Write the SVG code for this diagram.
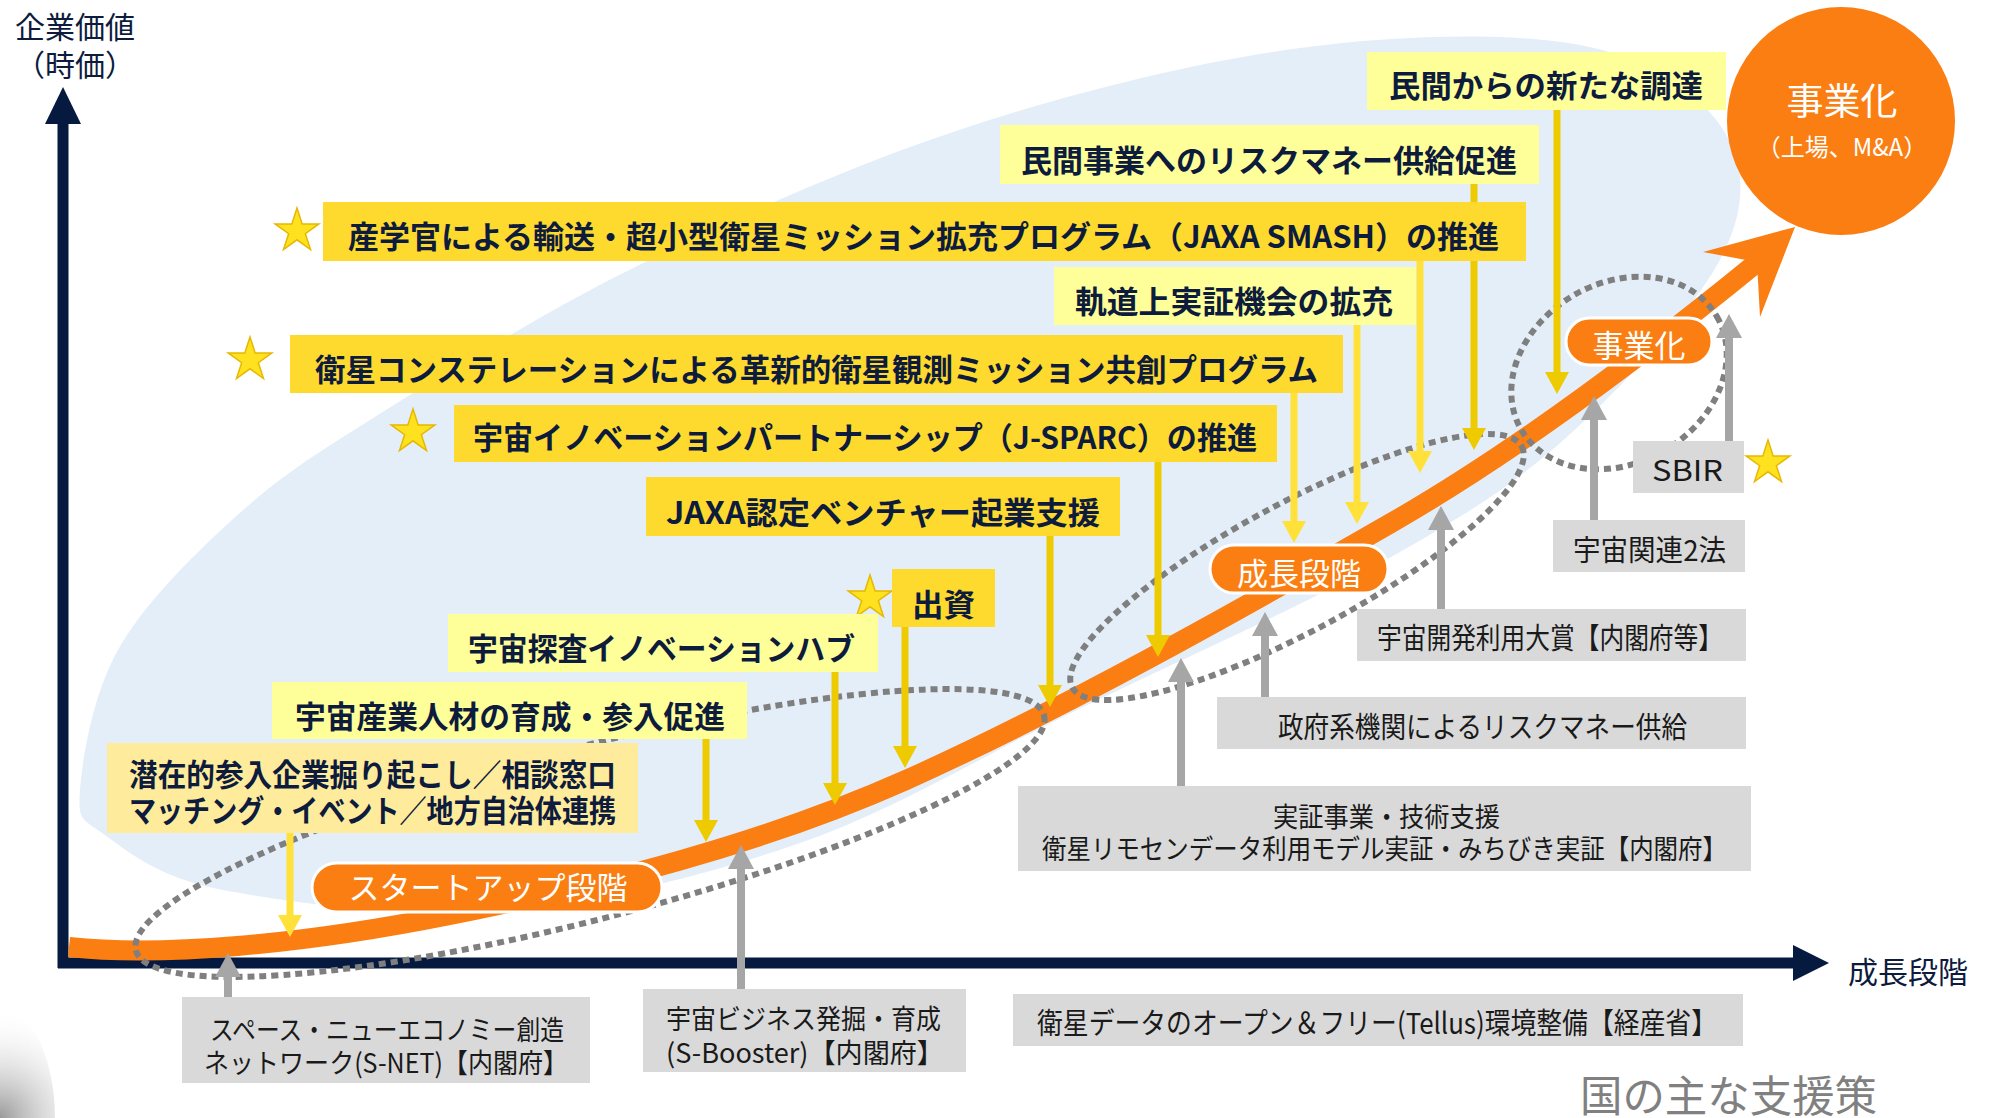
<svg xmlns="http://www.w3.org/2000/svg" xmlns:xlink="http://www.w3.org/1999/xlink" width="1995" height="1118" viewBox="0 0 1995 1118">
<style>
text{font-family:'Noto Sans CJK JP','Noto Sans',sans-serif;dominant-baseline:central}
.gold{fill:#FED92E}
.lite{fill:#FFFF99}
.pale{fill:#FFEB9C}
.grey{fill:#D9D9D9}
.yt{font-size:31px;font-weight:700;fill:#0D1B3D}
.gt{font-size:29px;fill:#1A1A1A}
.g2{font-size:27px;fill:#1A1A1A}
.ax{font-size:30px;fill:#0D1B3D}
.pill{fill:#FA7E12;stroke:#FFFFFF;stroke-width:3}
.pt{font-size:31px;fill:#FFFFFF;text-anchor:middle}
.dot{fill:none;stroke:#7F7F7F;stroke-width:6;stroke-dasharray:7 5}
.ay{stroke:#EECA00;stroke-width:7;marker-end:url(#hd)}
.ly{stroke:#FFE13A;stroke-width:7;marker-end:url(#hl)}
.ag{stroke:#A6A6A6;stroke-width:8;marker-end:url(#hg)}
.star{fill:#FFE21F;stroke:#E6B800;stroke-width:1.5}
</style>
<defs>
<marker id="hd" markerUnits="userSpaceOnUse" markerWidth="24" markerHeight="24" refX="2" refY="12" orient="auto"><path d="M0,0 L22,12 L0,24 Z" fill="#EECA00"/></marker>
<marker id="hl" markerUnits="userSpaceOnUse" markerWidth="24" markerHeight="24" refX="2" refY="12" orient="auto"><path d="M0,0 L22,12 L0,24 Z" fill="#FFE13A"/></marker>
<marker id="hg" markerUnits="userSpaceOnUse" markerWidth="26" markerHeight="26" refX="2" refY="13" orient="auto"><path d="M0,0 L24,13 L0,26 Z" fill="#A6A6A6"/></marker>
<polygon id="star" points="0,-23 5.16,-7.11 21.88,-7.11 8.36,2.71 13.52,18.61 0,8.79 -13.52,18.61 -8.36,2.71 -21.88,-7.11 -5.16,-7.11"/>
<radialGradient id="sh" cx="0" cy="1118" r="110" gradientUnits="userSpaceOnUse">
<stop offset="0" stop-color="#777777" stop-opacity="0.75"/>
<stop offset="1" stop-color="#FFFFFF" stop-opacity="0"/>
</radialGradient>
</defs>
<rect x="0" y="0" width="1995" height="1118" fill="#FFFFFF"/>
<ellipse cx="0" cy="1118" rx="55" ry="110" fill="url(#sh)"/>

<!-- background region -->
<path id="region" fill="#E4EEF8" d="M80 790 C82.2 759.2 92.7 695 118 650 C143.3 605 190 558.3 232 520 C274 481.7 300.8 463.2 370 420 C439.2 376.8 547.3 309.8 647 261 C746.7 212.2 859.2 162.5 968 127 C1076.8 91.5 1198 61.7 1300 48 C1402 34.3 1510 32.2 1580 45 C1650 57.8 1695.8 90.8 1720 125 C1744.2 159.2 1748.3 200 1725 250 C1701.7 300 1634.2 374.7 1580 425 C1525.8 475.3 1483.5 504.7 1400 552 C1316.5 599.3 1179 660.5 1079 709 C979 757.5 896.5 809.5 800 843 C703.5 876.5 596.2 902.2 500 910 C403.8 917.8 288.8 902.5 223 890 C157.2 877.5 128.8 851.7 105 835 C81.2 818.3 77.8 820.8 80 790 Z"/>

<!-- axes -->
<g id="axes" fill="#061A40">
<line x1="63" y1="968" x2="63" y2="120" stroke="#061A40" stroke-width="11"/>
<polygon points="45,124 63,87 81,124"/>
<line x1="58" y1="963" x2="1796" y2="963" stroke="#061A40" stroke-width="11"/>
<polygon points="1793,945 1829,963 1793,981"/>
</g>

<!-- growth curve -->
<g id="growth-curve">
<path d="M69 947 C160 957 300 945 450 915 C600 885 760 845 906 780 C1060 711 1240 610 1391 523 C1520 449 1650 350 1760 260" fill="none" stroke="#FA7E12" stroke-width="20"/>
<polygon points="1795,227 1703,252 1757,262 1760,317" fill="#FA7E12"/>
</g>

<!-- stage groupings -->
<g id="stage-groups">
<ellipse class="dot" cx="590" cy="833" rx="469" ry="86" transform="rotate(-14.5 590 833)"/>
<ellipse class="dot" cx="1297" cy="567" rx="255" ry="64" transform="rotate(-28.2 1297 567)"/>
<ellipse class="dot" cx="1619" cy="373" rx="113" ry="90" transform="rotate(-30 1619 373)"/>
</g>

<!-- connectors -->
<g id="connectors">
<line class="ay" x1="1557" y1="110" x2="1557" y2="374"/>
<line class="ay" x1="1474" y1="184" x2="1474" y2="430"/>
<line class="ly" x1="1420" y1="261" x2="1420" y2="453"/>
<line class="ly" x1="1357" y1="325" x2="1357" y2="504"/>
<line class="ly" x1="1294" y1="393" x2="1294" y2="523"/>
<line class="ay" x1="1158" y1="461" x2="1158" y2="637"/>
<line class="ay" x1="1050" y1="536" x2="1050" y2="687"/>
<line class="ay" x1="905" y1="627" x2="905" y2="748"/>
<line class="ay" x1="835" y1="672" x2="835" y2="785"/>
<line class="ay" x1="706" y1="739" x2="706" y2="822"/>
<line class="ly" x1="290" y1="833" x2="290" y2="917"/>
<line class="ag" x1="228" y1="999" x2="228" y2="975"/>
<line class="ag" x1="741" y1="989" x2="741" y2="867"/>
<line class="ag" x1="1181" y1="786" x2="1181" y2="680"/>
<line class="ag" x1="1265" y1="697" x2="1265" y2="634"/>
<line class="ag" x1="1441" y1="609" x2="1441" y2="528"/>
<line class="ag" x1="1594" y1="520" x2="1594" y2="418"/>
<line class="ag" x1="1729" y1="441" x2="1729" y2="336"/>
</g>

<!-- outcome -->
<g id="node-commercialization">
<circle cx="1841" cy="121" r="114" fill="#FA7E12"/>
<text x="1842" y="99" font-size="37" fill="#FFFFFF" text-anchor="middle">事業化</text>
<text x="1842" y="145" font-size="24" fill="#FFFFFF" text-anchor="middle">（上場、M&amp;A）</text>
</g>

<!-- yellow support measures -->
<g id="node-procurement"><rect class="lite" x="1367" y="52" width="359" height="58"/><text class="yt" x="1389" y="83" textLength="314" lengthAdjust="spacingAndGlyphs">民間からの新たな調達</text></g>
<g id="node-riskmoney"><rect class="lite" x="1000" y="125" width="539" height="59"/><text class="yt" x="1021" y="158" textLength="496" lengthAdjust="spacingAndGlyphs">民間事業へのリスクマネー供給促進</text></g>
<g id="node-smash"><use href="#star" class="star" transform="translate(297 231)"/><rect class="gold" x="323" y="202" width="1203" height="59"/><text class="yt" x="348" y="234" textLength="1151" lengthAdjust="spacingAndGlyphs">産学官による輸送・超小型衛星ミッション拡充プログラム（JAXA SMASH）の推進</text></g>
<g id="node-orbit"><rect class="lite" x="1054" y="267" width="362" height="58"/><text class="yt" x="1075" y="299" textLength="318" lengthAdjust="spacingAndGlyphs">軌道上実証機会の拡充</text></g>
<g id="node-constellation"><use href="#star" class="star" transform="translate(250 360)"/><rect class="gold" x="290" y="335" width="1053" height="58"/><text class="yt" x="315" y="367" textLength="1003" lengthAdjust="spacingAndGlyphs">衛星コンステレーションによる革新的衛星観測ミッション共創プログラム</text></g>
<g id="node-jsparc"><use href="#star" class="star" transform="translate(413 432)"/><rect class="gold" x="454" y="405" width="823" height="57"/><text class="yt" x="473" y="435" textLength="784" lengthAdjust="spacingAndGlyphs">宇宙イノベーションパートナーシップ（J-SPARC）の推進</text></g>
<g id="node-jaxa-venture"><rect class="gold" x="646" y="477" width="474" height="59"/><text class="yt" x="666" y="510" textLength="434" lengthAdjust="spacingAndGlyphs">JAXA認定ベンチャー起業支援</text></g>
<g id="node-investment"><use href="#star" class="star" transform="translate(870 598)"/><rect class="gold" x="892" y="569" width="103" height="58"/><text class="yt" x="912" y="602" textLength="63" lengthAdjust="spacingAndGlyphs">出資</text></g>
<g id="node-exploration-hub"><rect class="lite" x="448" y="614" width="430" height="58"/><text class="yt" x="468" y="646" textLength="387" lengthAdjust="spacingAndGlyphs">宇宙探査イノベーションハブ</text></g>
<g id="node-talent"><rect class="lite" x="272" y="682" width="475" height="57"/><text class="yt" x="295" y="714" textLength="430" lengthAdjust="spacingAndGlyphs">宇宙産業人材の育成・参入促進</text></g>
<g id="node-matching"><rect class="pale" x="107" y="743" width="531" height="90"/><text class="yt" font-size="28"><tspan x="129" y="772" textLength="487" lengthAdjust="spacingAndGlyphs">潜在的参入企業掘り起こし／相談窓口</tspan><tspan x="129" y="808" textLength="487" lengthAdjust="spacingAndGlyphs">マッチング・イベント／地方自治体連携</tspan></text></g>

<!-- grey support measures -->
<g id="node-snet"><rect class="grey" x="182" y="997" width="408" height="86"/><text class="g2"><tspan x="210" y="1028" textLength="354" lengthAdjust="spacingAndGlyphs">スペース・ニューエコノミー創造</tspan><tspan x="204" y="1061" textLength="364" lengthAdjust="spacingAndGlyphs">ネットワーク(S-NET)【内閣府】</tspan></text></g>
<g id="node-sbooster"><rect class="grey" x="643" y="989" width="323" height="83"/><text class="g2"><tspan x="666" y="1017" textLength="275" lengthAdjust="spacingAndGlyphs">宇宙ビジネス発掘・育成</tspan><tspan x="666" y="1051" textLength="278" lengthAdjust="spacingAndGlyphs">(S-Booster)【内閣府】</tspan></text></g>
<g id="node-tellus"><rect class="grey" x="1013" y="994" width="730" height="52"/><text class="gt" x="1037" y="1021" textLength="680" lengthAdjust="spacingAndGlyphs">衛星データのオープン＆フリー(Tellus)環境整備【経産省】</text></g>
<g id="node-demo"><rect class="grey" x="1018" y="786" width="733" height="85"/><text class="g2"><tspan x="1273" y="815" textLength="227" lengthAdjust="spacingAndGlyphs">実証事業・技術支援</tspan><tspan x="1042" y="847" textLength="685" lengthAdjust="spacingAndGlyphs">衛星リモセンデータ利用モデル実証・みちびき実証【内閣府】</tspan></text></g>
<g id="node-gov-riskmoney"><rect class="grey" x="1217" y="697" width="529" height="52"/><text class="gt" x="1278" y="725" textLength="409" lengthAdjust="spacingAndGlyphs">政府系機関によるリスクマネー供給</text></g>
<g id="node-award"><rect class="grey" x="1357" y="609" width="389" height="52"/><text class="gt" x="1377" y="636" textLength="346" lengthAdjust="spacingAndGlyphs">宇宙開発利用大賞【内閣府等】</text></g>
<g id="node-space-laws"><rect class="grey" x="1553" y="520" width="192" height="52"/><text class="gt" x="1573" y="548" textLength="153" lengthAdjust="spacingAndGlyphs">宇宙関連2法</text></g>
<g id="node-sbir"><rect class="grey" x="1633" y="441" width="111" height="52"/><text class="gt" x="1652" y="468" textLength="71" lengthAdjust="spacingAndGlyphs">SBIR</text><use href="#star" class="star" transform="translate(1768 463)"/></g>

<!-- stage pills -->
<g id="node-startup"><rect class="pill" x="312" y="863" width="350" height="49" rx="24.5"/><text class="pt" x="488" y="885" font-size="30">スタートアップ段階</text></g>
<g id="node-growth"><rect class="pill" x="1210" y="545" width="178" height="48" rx="24"/><text class="pt" x="1299" y="571">成長段階</text></g>
<g id="node-business"><rect class="pill" x="1566" y="318" width="146" height="47" rx="23.5"/><text class="pt" x="1639" y="343">事業化</text></g>

<!-- axis labels -->
<g id="labels">
<text class="ax" text-anchor="middle"><tspan x="75" y="25">企業価値</tspan><tspan x="75" y="63">（時価）</tspan></text>
<text class="ax" x="1848" y="970" font-size="32">成長段階</text>
<text x="1580" y="1093" font-size="43" fill="#808080" textLength="297" lengthAdjust="spacingAndGlyphs">国の主な支援策</text>
</g>
</svg>
